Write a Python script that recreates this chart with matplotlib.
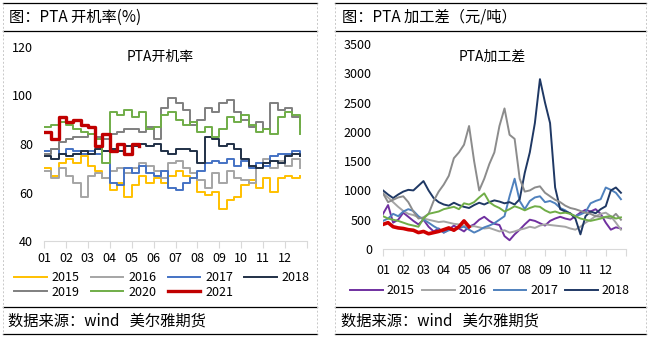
import numpy as np
import matplotlib
matplotlib.use('Agg')
import matplotlib.pyplot as plt
from matplotlib.lines import Line2D

plt.rcParams['font.family'] = ['Noto Sans CJK SC', 'DejaVu Sans']

W, H = 649, 337
months = ['01', '02', '03', '04', '05', '06', '07', '08', '09', '10', '11', '12']
years = ['2015', '2016', '2017', '2018', '2019', '2020', '2021']

# PTA开机率 (%), 3 readings per month
rate_2015 = [70, 67, 72, 74, 72, 75, 71, 69, 66, 61, 64, 58, 63, 67, 64, 66, 64, 67,
             69, 67, 66, 60, 59, 60, 53, 57, 58, 63, 65, 62, 66, 60, 66, 67, 66, 67]
rate_2016 = [69, 66, 70, 67, 64, 58, 67, 68, 66, 69, 70, 68, 70, 72, 71, 69, 66, 72,
             73, 70, 68, 65, 62, 68, 64, 69, 66, 65, 64, 72, 74, 70, 73, 71, 74, 70]
rate_2017 = [77, 78, 76, 78, 77, 76, 77, 76, 77, 64, 63, 70, 68, 71, 68, 67, 69, 62,
             61, 64, 66, 69, 72, 73, 72, 74, 71, 73, 70, 72, 71, 75, 76, 76, 77, 76]
rate_2018 = [75, 74, 76, 75, 76, 77, 76, 78, 77, 78, 77, 79, 79, 80, 79, 80, 77, 76,
             78, 78, 77, 72, 83, 82, 79, 80, 78, 74, 71, 70, 72, 73, 72, 75, 76, 75]
rate_2019 = [76, 78, 81, 82, 83, 83, 84, 83, 82, 84, 85, 86, 86, 85, 87, 82, 95, 99,
             97, 94, 88, 90, 95, 93, 97, 98, 93, 90, 87, 89, 86, 97, 94, 95, 91, 87]
rate_2020 = [87, 88, 89, 88, 86, 85, 84, 82, 72, 93, 92, 94, 91, 93, 86, 87, 92, 93,
             90, 88, 89, 85, 87, 83, 86, 91, 89, 92, 88, 85, 86, 84, 91, 93, 92, 84]
rate_2021 = [85, 82, 91, 89, 90, 88, 87, 79, 84, 77, 80, 76, 80, 79]

# PTA加工差 (元/吨), 4 readings per month
spread_2015 = [600, 750, 450, 500, 620, 550, 480, 420, 500, 380, 300, 350,
               280, 330, 400, 350, 300, 380, 420, 500, 550, 480, 430, 410,
               220, 150, 250, 330, 420, 500, 480, 440, 400, 480, 520, 550,
               520, 500, 560, 620, 670, 640, 680, 600, 450, 330, 370, 350]
spread_2016 = [950, 880, 800, 720, 650, 600, 580, 540, 520, 500, 480, 460,
               470, 450, 430, 420, 400, 380, 390, 370, 350, 360, 330, 300,
               320, 280, 300, 330, 350, 380, 360, 400, 420, 410, 400, 390,
               380, 350, 330, 380, 450, 500, 560, 600, 620, 560, 450, 330]
spread_2017 = [480, 520, 600, 560, 640, 680, 650, 560, 500, 450, 390, 340,
               280, 320, 330, 360, 380, 330, 280, 320, 370, 400, 440, 500,
               560, 900, 1200, 820, 680, 820, 880, 900, 800, 820, 780, 700,
               660, 600, 560, 590, 630, 780, 820, 850, 1050, 1010, 960, 850]
spread_2018 = [1000, 930, 870, 930, 980, 1010, 1000, 1080, 1160, 1000, 870, 800,
               760, 740, 790, 750, 720, 700, 750, 790, 760, 800, 830, 810,
               780, 800, 760, 850, 1300, 1650, 2150, 2900, 2500, 2150, 1050, 680,
               640, 610, 520, 250, 560, 640, 610, 680, 730, 1000, 1050, 960]
spread_2019 = [950, 800, 840, 880, 900, 800, 640, 520, 540, 600, 820, 980,
               1100, 1250, 1550, 1650, 1780, 2100, 1500, 1000, 1200, 1450, 1650, 2100,
               2400, 1950, 1880, 1200, 980, 1000, 1050, 1070, 960, 900, 840, 800,
               740, 700, 680, 650, 620, 600, 560, 550, 540, 520, 600, 500]
spread_2020 = [560, 520, 500, 480, 450, 420, 400, 380, 520, 600, 620, 640,
               680, 700, 720, 680, 780, 760, 800, 880, 950, 800, 740, 700,
               640, 680, 730, 700, 660, 700, 730, 720, 660, 620, 640, 610,
               620, 600, 560, 520, 500, 480, 500, 520, 550, 560, 520, 540]
spread_2021 = [420, 450, 380, 360, 350, 330, 320, 280, 300, 260, 280, 300,
               330, 360, 320, 380, 480, 380]

rate_series = [rate_2015, rate_2016, rate_2017, rate_2018, rate_2019, rate_2020, rate_2021]
spread_series = [spread_2015, spread_2016, spread_2017, spread_2018, spread_2019, spread_2020, spread_2021]

left_colors = ['#ffc000', '#a5a5a5', '#4472c4', '#203046', '#7f7f7f', '#70ad47', '#c00000']
right_colors = ['#7030a0', '#a5a5a5', '#4f81bd', '#1f3864', '#8c8c8c', '#70ad47', '#d00000']


def fx(px):
    return px / W


def fy(py):
    return 1 - py / H


fig = plt.figure(figsize=(W / 100, H / 100), dpi=100)

# panel frames
for x0, x1 in [(3, 317), (335, 646)]:
    for py in [3, 31, 306.5, 334]:
        fig.add_artist(Line2D([fx(x0), fx(x1)], [fy(py), fy(py)], color='black', lw=0.9))
for px in [3, 317, 335, 646]:
    fig.add_artist(Line2D([fx(px), fx(px)], [fy(3), fy(334)], color='#c8c8c8', lw=0.7, ls=(0, (2, 2))))

fig.text(fx(9), fy(17), '图：PTA 开机率(%)', fontsize=11, va='center', ha='left')
fig.text(fx(342), fy(17), '图：PTA 加工差（元/吨）', fontsize=11, va='center', ha='left')
fig.text(fx(8), fy(321), '数据来源：wind   美尔雅期货', fontsize=11, va='center', ha='left')
fig.text(fx(341), fy(321), '数据来源：wind   美尔雅期货', fontsize=11, va='center', ha='left')


def style_axis(ax, pad_x):
    for s in ['left', 'right', 'top']:
        ax.spines[s].set_visible(False)
    ax.spines['bottom'].set_color('#d9d9d9')
    ax.set_xlim(0, 12)
    ax.set_xticks(range(13))
    ax.set_xticklabels(months + [''])
    ax.tick_params(axis='x', length=5, color='#d9d9d9', labelsize=9, pad=pad_x)
    ax.tick_params(axis='y', length=0, labelsize=9, pad=8)
    ax.patch.set_alpha(0)


# left: 开机率
ax1 = fig.add_axes([fx(44), fy(241), fx(307) - fx(44), fy(47) - fy(241)])
for name, vals, c in zip(years, rate_series, left_colors):
    x = np.arange(len(vals)) / 3
    lw = 2.4 if name == '2021' else 1.4
    ax1.plot(x, vals, color=c, lw=lw, drawstyle='steps-post', label=name)
ax1.set_ylim(40, 120)
ax1.set_yticks([40, 60, 80, 100, 120])
style_axis(ax1, 3)
ax1.text(0.44, 0.95, 'PTA开机率', transform=ax1.transAxes, ha='center', va='center', fontsize=10)
h, l = ax1.get_legend_handles_labels()
order = [0, 4, 1, 5, 2, 6, 3]  # row-wise fill for 4 columns
ax1.legend([h[i] for i in order], [l[i] for i in order], loc='center',
           bbox_to_anchor=(fx(162), fy(285)), bbox_transform=fig.transFigure,
           ncol=4, frameon=False, fontsize=9, handlelength=2.6, columnspacing=0.9,
           handletextpad=0.4, labelspacing=0.1)

# right: 加工差
ax2 = fig.add_axes([fx(383), fy(249), fx(626) - fx(383), fy(44) - fy(249)])
for name, vals, c in zip(years, spread_series, right_colors):
    x = np.arange(len(vals)) / 4
    lw = 2.6 if name == '2021' else 1.4
    ax2.plot(x, vals, color=c, lw=lw, label=name)
ax2.set_ylim(0, 3500)
ax2.set_yticks(range(0, 3501, 500))
style_axis(ax2, 6)
ax2.text(0.45, 0.94, 'PTA加工差', transform=ax2.transAxes, ha='center', va='center', fontsize=10)
h, l = ax2.get_legend_handles_labels()
ax2.legend(h[:4], l[:4], loc='center', bbox_to_anchor=(fx(490), fy(291)), bbox_transform=fig.transFigure,
           ncol=4, frameon=False, fontsize=9, handlelength=2.6, columnspacing=0.6,
           handletextpad=0.3)

fig.savefig('out.png', dpi=100)
